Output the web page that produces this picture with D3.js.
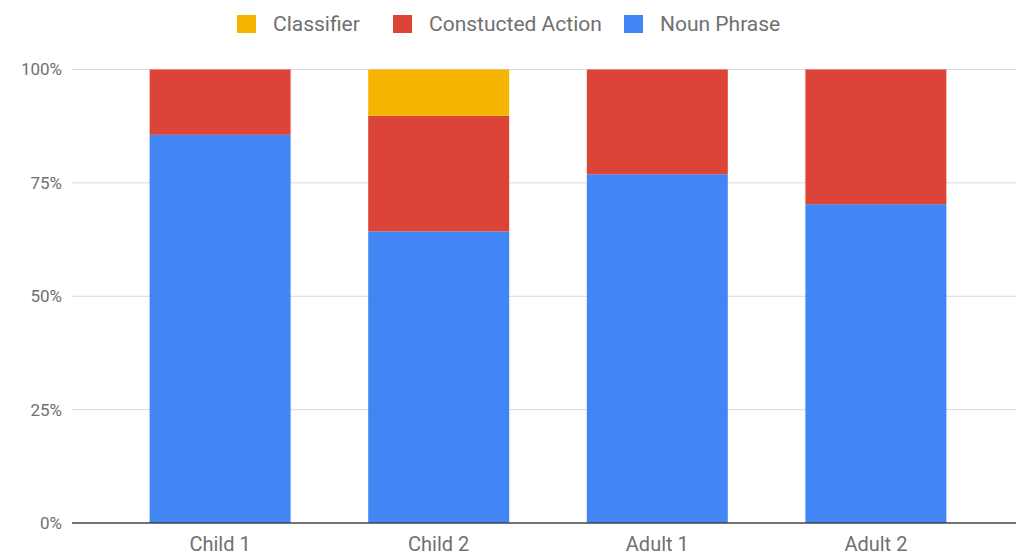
<!DOCTYPE html>
<html>
<head>
<meta charset="utf-8">
<script src="https://cdn.jsdelivr.net/npm/d3@7"></script>
<style>
  html, body { margin: 0; padding: 0; background: #fff; }
  svg { display: block; font-family: Roboto, "Noto Sans", sans-serif; }
</style>
</head>
<body>
<svg id="chart" width="1016" height="560"></svg>
<script>
// Share of each reference type per participant (percent)
const categories = ["Child 1", "Child 2", "Adult 1", "Adult 2"];
const seriesNames = ["Noun Phrase", "Constucted Action", "Classifier"];
const nounPhrase = [85.6, 64.3, 76.9, 70.3];
const constructedAction = [14.4, 25.5, 23.1, 29.7];
const classifier = [0, 10.2, 0, 0];
const yTicks = [0, 25, 50, 75, 100];
const legendOrder = ["Classifier", "Constucted Action", "Noun Phrase"];
const colors = {
  "Noun Phrase": "#4285f4",
  "Constucted Action": "#db4437",
  "Classifier": "#f4b400"
};

const svg = d3.select("#chart");
const plot = { left: 72, right: 1016, top: 69.5, bottom: 523 };

const rows = categories.map((c, i) => ({
  cat: c,
  "Noun Phrase": nounPhrase[i],
  "Constucted Action": constructedAction[i],
  "Classifier": classifier[i]
}));

const x = d3.scaleBand().domain(categories).range([72, 1024]).padding(0.355);
const y = d3.scaleLinear().domain([0, 100]).range([plot.bottom, plot.top]);

// Gridlines
svg.append("g").selectAll("line")
  .data(yTicks.filter(t => t > 0))
  .join("line")
  .attr("x1", plot.left).attr("x2", plot.right)
  .attr("y1", d => y(d)).attr("y2", d => y(d))
  .attr("stroke", "#d9d9d9").attr("stroke-width", 1);

// Y tick labels
svg.append("g").selectAll("text")
  .data(yTicks)
  .join("text")
  .attr("x", 62).attr("y", d => y(d))
  .attr("dy", "0.35em")
  .attr("text-anchor", "end")
  .attr("fill", "#707070")
  .attr("font-size", 17)
  .text(d => d + "%");

// Stacked bars
const stack = d3.stack().keys(seriesNames)(rows);
svg.append("g").selectAll("g")
  .data(stack)
  .join("g")
  .attr("fill", d => colors[d.key])
  .selectAll("rect")
  .data(d => d)
  .join("rect")
  .attr("x", d => x(d.data.cat))
  .attr("width", x.bandwidth())
  .attr("y", d => y(d[1]))
  .attr("height", d => y(d[0]) - y(d[1]));

// Baseline
svg.append("line")
  .attr("x1", plot.left).attr("x2", plot.right)
  .attr("y1", y(0)).attr("y2", y(0))
  .attr("stroke", "#444").attr("stroke-width", 1.5);

// X labels
svg.append("g").selectAll("text")
  .data(categories)
  .join("text")
  .attr("x", d => x(d) + x.bandwidth() / 2)
  .attr("y", 551)
  .attr("text-anchor", "middle")
  .attr("fill", "#707070")
  .attr("font-size", 20)
  .text(d => d);

// Legend
const legendX = [237, 393, 624];
const lg = svg.append("g").selectAll("g")
  .data(legendOrder)
  .join("g")
  .attr("transform", (d, i) => `translate(${legendX[i]},15)`);
lg.append("rect")
  .attr("width", 19).attr("height", 18)
  .attr("fill", d => colors[d]);
lg.append("text")
  .attr("x", 36).attr("y", 9)
  .attr("dy", "0.35em")
  .attr("fill", "#707070")
  .attr("font-size", 21)
  .text(d => d);
</script>
</body>
</html>
